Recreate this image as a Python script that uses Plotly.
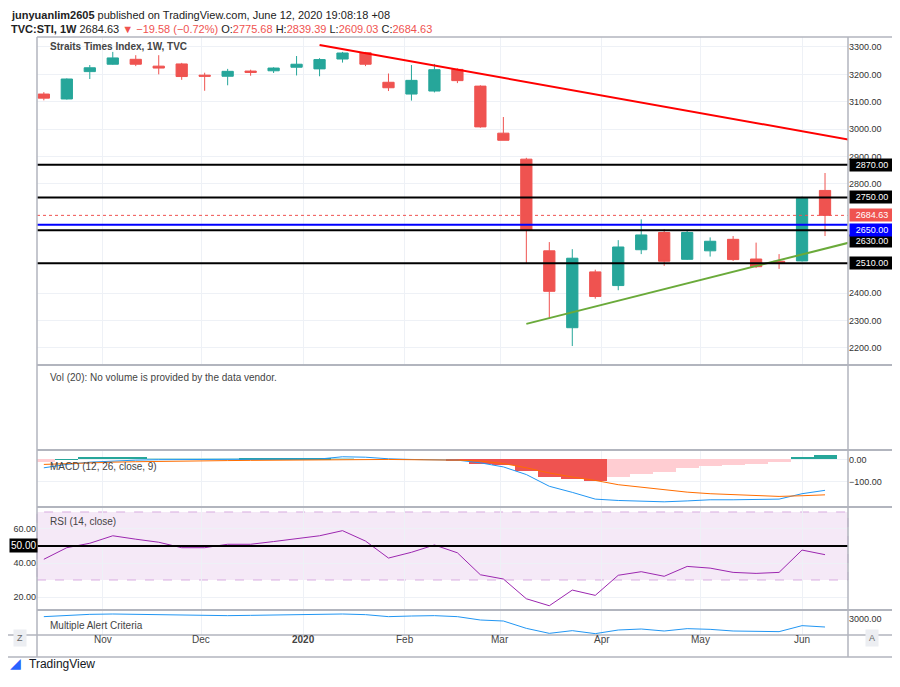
import pandas as pd
import plotly.graph_objects as go

# page body keeps an 8px margin, so the figure is drawn slightly smaller
PAD = 8
W, H = 900 - 2 * PAD, 687 - 2 * PAD

# weekly candles, STI
week_start = "2019-10-14"
opens = [3128, 3110, 3210, 3237, 3255, 3230, 3238, 3197, 3193, 3212, 3213, 3226, 3220, 3256, 3279,
         3171, 3128, 3139, 3218, 3157, 2985, 2890, 2555, 2274, 2478, 2428, 2559, 2622, 2524, 2555,
         2597, 2525, 2517, 2518, 2775.68]
highs = [3135, 3185, 3234, 3282, 3270, 3270, 3242, 3206, 3220, 3217, 3226, 3267, 3259, 3282, 3282,
         3203, 3234, 3238, 3222, 3160, 3044, 2895, 2587, 2561, 2486, 2594, 2670, 2634, 2631, 2604,
         2609, 2585, 2543, 2753, 2839.39]
lows = [3105, 3108, 3183, 3235, 3230, 3200, 3180, 3140, 3160, 3195, 3205, 3196, 3193, 3243, 3230,
        3139, 3104, 3134, 3168, 3005, 2959, 2510, 2308, 2207, 2380, 2411, 2543, 2500, 2522, 2534,
        2518, 2492, 2489, 2516, 2609.03]
closes = [3113, 3183, 3224, 3260, 3237, 3223, 3192, 3193, 3211, 3207, 3223, 3237, 3254, 3278, 3237,
          3151, 3178, 3217, 3177, 3008, 2959, 2631, 2407, 2528, 2388, 2569, 2613, 2517, 2622, 2590,
          2523, 2497, 2510, 2747, 2684.63]

macd_hist = [-12, 2, 12, 12, 12, 7, 6, 5, 4, 6, 6, 7, 8, 3, 1, 0, -1, 0, -3, -18, -25, -52, -79, -85,
             -94, -79, -65, -57, -39, -30, -25, -19, -12, 10, 21]
macd_line = [-37, -22, -12, -7, -3, -1, 0, 0, 1, 1, 1, 2, 2, 12, 10, 3, 0, 0, -3, -15, -33, -67, -119,
             -146, -176, -182, -184, -188, -184, -179, -179, -179, -176, -152, -137]
signal_line = [-22, -18, -15, -12, -10, -8, -7, -6, -5, -4, -3, -2, -1, 0, 0, 0, -1, -1, -3, -7, -18,
               -37, -60, -78, -93, -112, -124, -134, -145, -152, -157, -161, -164, -161, -157]
rsi = [42.2, 49, 51.6, 56, 54, 52.2, 49, 49, 51, 51, 52.6, 54.3, 56, 59, 52.9, 42.9, 46.3, 50.6, 46,
       33.1, 30.6, 19, 14.9, 24.1, 21, 32.8, 34.9, 32.2, 38, 37, 34.5, 33.9, 34.5, 47.6, 44.9]
alert = [3047, 3073, 3093, 3100, 3093, 3080, 3073, 3067, 3067, 3073, 3080, 3087, 3093, 3100, 3087,
         3047, 3060, 3067, 3047, 2980, 2960, 2813, 2713, 2767, 2707, 2780, 2800, 2760, 2807, 2793,
         2760, 2747, 2747, 2867, 2840]

levels_black = [2870, 2750, 2630, 2510]
level_blue = 2650
last_price = 2684.63
price_ticks = [2200, 2300, 2400, 2800, 2900, 3000, 3100, 3200, 3300]
down_trend = (["2020-01-06", "2020-06-16"], [3307, 2960])
up_trend = (["2020-03-09", "2020-06-16"], [2288, 2587])

month_ticks = ["2019-11-01", "2019-12-01", "2020-01-01", "2020-02-01", "2020-03-01", "2020-04-01",
               "2020-05-01", "2020-06-01"]
month_labels = ["Nov", "Dec", "<b>2020</b>", "Feb", "Mar", "Apr", "May", "Jun"]

dates = [d.strftime("%Y-%m-%d") for d in pd.date_range(week_start, periods=len(closes), freq="7D")]

UP, DOWN = "#26a69a", "#ef5350"
GRID = "#eef1f6"
BORDER = "#b2b5be"


def fy(px):
    return 1 - (px - PAD) / H


def fx(px):
    return (px - PAD) / W


# pane rows in screen pixels (top, bottom)
panes = [(37, 365), (365, 450), (450, 507), (507, 610), (610, 635)]
x0, x1 = 37, 848

fig = go.Figure()
fig.add_trace(go.Candlestick(x=dates, open=opens, high=highs, low=lows, close=closes,
                             increasing=dict(line=dict(color=UP, width=1), fillcolor=UP),
                             decreasing=dict(line=dict(color=DOWN, width=1), fillcolor=DOWN),
                             whiskerwidth=0, xaxis="x", yaxis="y", showlegend=False))

fig.add_trace(go.Scatter(x=down_trend[0], y=down_trend[1], mode="lines",
                         line=dict(color="#ff0000", width=2), xaxis="x", yaxis="y"))
fig.add_trace(go.Scatter(x=up_trend[0], y=up_trend[1], mode="lines",
                         line=dict(color="#6aaa3a", width=2), xaxis="x", yaxis="y"))

# histogram colours from direction
hist_colors = []
for i, v in enumerate(macd_hist):
    prev = macd_hist[i - 1] if i else v
    if v >= 0:
        hist_colors.append(UP if v >= prev else "#b2dfdb")
    else:
        hist_colors.append(DOWN if v < prev else "#ffcdd2")
fig.add_trace(go.Bar(x=dates, y=macd_hist, marker_color=hist_colors, marker_line_width=0,
                     xaxis="x3", yaxis="y3"))
fig.add_trace(go.Scatter(x=dates, y=macd_line, mode="lines", line=dict(color="#2196f3", width=1),
                         xaxis="x3", yaxis="y3"))
fig.add_trace(go.Scatter(x=dates, y=signal_line, mode="lines", line=dict(color="#ff6d00", width=1),
                         xaxis="x3", yaxis="y3"))

fig.add_trace(go.Scatter(x=dates, y=rsi, mode="lines", line=dict(color="#9c27b0", width=1),
                         xaxis="x4", yaxis="y4"))
fig.add_trace(go.Scatter(x=dates, y=alert, mode="lines", line=dict(color="#2196f3", width=1),
                         xaxis="x5", yaxis="y5"))

xrange = ["2019-10-11 22:00", "2020-06-15"]
xcommon = dict(type="date", range=xrange, autorange=False, showgrid=True, gridcolor=GRID,
               tickvals=month_ticks, showticklabels=False, zeroline=False,
               domain=[fx(x0), fx(x1)], fixedrange=True, rangeslider=dict(visible=False))
ycommon = dict(showgrid=True, gridcolor=GRID, zeroline=False, side="right", ticks="",
               tickfont=dict(size=9, color="#333"), automargin=False, fixedrange=True)

layout = dict(width=W, height=H, margin=dict(l=0, r=0, t=0, b=0), showlegend=False,
              paper_bgcolor="white", plot_bgcolor="white", bargap=0.0,
              font=dict(family="Liberation Sans, Arial", color="#333"))
for k, (top, bot) in enumerate(panes, start=1):
    name = "" if k == 1 else str(k)
    layout["xaxis" + name] = dict(xcommon, anchor="y" + name)
    layout["yaxis" + name] = dict(ycommon, domain=[fy(bot), fy(top)], anchor="x" + name)

layout["yaxis"].update(range=[2137.7, 3336.5], tickvals=price_ticks,
                       ticktext=["%d.00" % v for v in price_ticks])
layout["yaxis2"].update(range=[-22e6, 353e6], tickvals=[0, 100e6, 200e6, 300e6],
                        ticktext=["0", "100M", "200M", "300M"])
layout["yaxis3"].update(range=[-211, 42], tickvals=[0, -100], ticktext=["0.00", "\u2212100.00"])
layout["yaxis4"].update(range=[12.4, 72.9], tickvals=[20, 40, 60], side="left",
                        ticktext=["20.00", "40.00", "60.00"])
layout["yaxis5"].update(range=[2680, 3180], tickvals=[3000], ticktext=["3000.00"], showgrid=False)
fig.update_layout(**layout)

shapes = []
for lv in levels_black:
    shapes.append(dict(type="line", xref="paper", x0=fx(x0), x1=fx(x1), yref="y", y0=lv, y1=lv,
                       line=dict(color="black", width=2)))
shapes.append(dict(type="line", xref="paper", x0=fx(x0), x1=fx(x1), yref="y", y0=level_blue,
                   y1=level_blue, line=dict(color="#0000ff", width=2)))
shapes.append(dict(type="line", xref="paper", x0=fx(x0), x1=fx(x1), yref="y", y0=last_price,
                   y1=last_price, line=dict(color=DOWN, width=1, dash="dot")))
# RSI band and mid line
shapes.append(dict(type="rect", xref="paper", x0=fx(x0), x1=fx(x1), yref="y4", y0=30, y1=70,
                   fillcolor="rgba(156,39,176,0.1)", line=dict(color="rgba(156,39,176,0.35)",
                                                               width=1, dash="dash"), layer="below"))
shapes.append(dict(type="line", xref="paper", x0=fx(x0), x1=fx(x1), yref="y4", y0=50, y1=50,
                   line=dict(color="black", width=2)))
# pane borders
for top, bot in panes[1:]:
    shapes.append(dict(type="line", xref="paper", yref="paper", x0=fx(x0), x1=1, y0=fy(top),
                       y1=fy(top), line=dict(color=BORDER, width=2)))
for yy in (37, 635, 657):
    shapes.append(dict(type="line", xref="paper", yref="paper", x0=fx(x0) if yy == 37 else 0, x1=1,
                       y0=fy(yy), y1=fy(yy), line=dict(color=BORDER, width=1.5)))
for xx in (x0, x1):
    shapes.append(dict(type="line", xref="paper", yref="paper", x0=fx(xx), x1=fx(xx), y0=fy(657),
                       y1=fy(37), line=dict(color=BORDER, width=1.5)))
fig.update_layout(shapes=shapes)

ann = []
# price labels on the right; TradingView nudges crowded ones apart
nudge = {2630: -11, 2650: -5}


def label(val, bg, xpx=849, fg="white"):
    ann.append(dict(x=fx(xpx), xref="paper", xanchor="left", y=val, yref="y", yanchor="middle",
                    text="%.2f" % val, showarrow=False, bgcolor=bg, font=dict(size=9, color=fg),
                    borderpad=1, width=42, yshift=nudge.get(val, 0)))


for lv in levels_black:
    label(lv, "black")
label(last_price, DOWN)
label(level_blue, "#0000ff")
ann.append(dict(x=fx(9), xref="paper", xanchor="left", y=50, yref="y4", text="50.00",
                showarrow=False, bgcolor="black", font=dict(size=10, color="white"), borderpad=1))

ann.append(dict(x=fx(9), y=fy(15), xref="paper", yref="paper", xanchor="left", yanchor="middle",
                showarrow=False, font=dict(size=11, color="#222"),
                text="<b>junyuanlim2605</b> published on TradingView.com, June 12, 2020 19:08:18 +08"))
ann.append(dict(x=fx(9), y=fy(29), xref="paper", yref="paper", xanchor="left", yanchor="middle",
                showarrow=False, font=dict(size=11, color="#222"),
                text="<b>TVC:STI, 1W</b> 2684.63 <span style='color:#ef5350'>\u25bc \u221219.58 "
                     "(\u22120.72%)</span> O:<span style='color:#ef5350'>2775.68</span> "
                     "H:<span style='color:#ef5350'>2839.39</span> L:<span style='color:#ef5350'>"
                     "2609.03</span> C:<span style='color:#ef5350'>2684.63</span>"))
pane_titles = [(47, "<b>Straits Times Index, 1W, TVC</b>"),
               (377, "Vol (20): No volume is provided by the data vendor."),
               (466, "MACD (12, 26, close, 9)"), (521, "RSI (14, close)"),
               (625, "Multiple Alert Criteria")]
for ypx, t in pane_titles:
    ann.append(dict(x=fx(48), y=fy(ypx), xref="paper", yref="paper", xanchor="left",
                    yanchor="middle", showarrow=False, text=t, font=dict(size=10, color="#444")))
for tv, tl in zip(month_ticks, month_labels):
    ann.append(dict(x=tv, xref="x", y=fy(647), yref="paper", text=tl, showarrow=False,
                    xanchor="center", font=dict(size=10, color="#444")))
for xpx, t in ((20, "Z"), (872, "A")):
    ann.append(dict(x=fx(xpx), y=fy(647), xref="paper", yref="paper", text=t, showarrow=False,
                    xanchor="center", font=dict(size=9, color="#666"), bgcolor="#eceef2",
                    borderpad=3))
ann.append(dict(x=fx(27), y=fy(673), xref="paper", yref="paper", xanchor="left", text="TradingView",
                showarrow=False, font=dict(size=12, color="#131722")))
ann.append(dict(x=fx(8), y=fy(673), xref="paper", yref="paper", xanchor="left", text="\u25e2",
                showarrow=False, font=dict(size=14, color="#2962ff")))
fig.update_layout(annotations=ann)

fig.write_html("out.html")
